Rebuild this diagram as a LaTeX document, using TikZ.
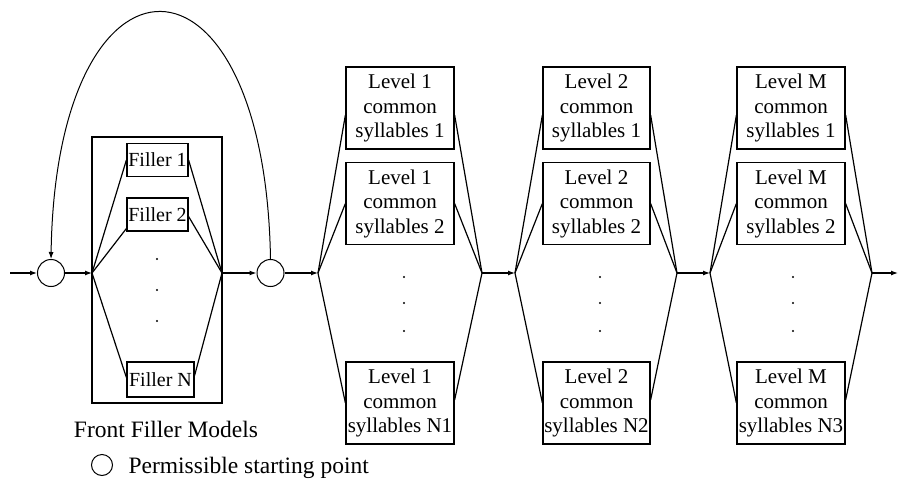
\documentclass[tikz,border=0pt]{standalone}
\usepackage{fontspec}
\setmainfont{Liberation Serif}
\usetikzlibrary{arrows.meta}
\begin{document}
\begin{tikzpicture}[x=1pt,y=-1pt,line width=1.2pt,
  state/.style={circle,draw,line width=1pt,minimum size=27pt,inner sep=0pt},
  filler/.style={draw,minimum height=33pt,inner sep=0pt,font=\fontsize{20}{24}\selectfont},
  syl/.style={draw,minimum width=108pt,minimum height=82pt,inner sep=0pt,align=center,
    font=\fontsize{21}{24.5}\selectfont},
  arr/.style={-{Latex[length=7pt,width=5pt]}},
  vdot/.style={circle,fill,inner sep=0pt,minimum size=2.4pt},
  caption/.style={inner sep=0pt,font=\fontsize{23.5}{27}\selectfont}
]
\useasboundingbox (0,0) rectangle (899,479);

% starting points
\coordinate (in) at (10,273);
\node[state] (c1) at (51,273) {};
\node[state] (c2) at (270.5,273) {};

% front filler block
\node[draw,minimum width=130pt,minimum height=266pt,inner sep=0pt] (ffm) at (157,270) {};
\coordinate (fl) at (92,273);
\coordinate (fr) at (222,273);
\node[filler,minimum width=61pt] (f1) at (157.5,160) {Filler 1};
\node[filler,minimum width=61pt] (f2) at (157.5,214.5) {Filler 2};
\node[filler,minimum width=67pt,minimum height=35pt] (fn) at (160.5,379.5) {Filler N};
\node[vdot] (fd1) at (157,259) {};
\node[vdot] (fd2) at (157,290) {};
\node[vdot] (fd3) at (157,321) {};

\draw (fl) -- (f1.west);
\draw (fl) -- ([yshift=-14pt]f2.west);
\draw (fl) -- ([yshift=2pt]fn.west);
\draw (f1.east) -- (fr);
\draw ([yshift=-2pt]f2.east) -- (fr);
\draw ([yshift=4pt]fn.east) -- (fr);

\node[caption,anchor=base] (ffmlabel) at (166,437) {Front Filler Models};

% level junctions
\coordinate (a1) at (318,273);
\coordinate (b1) at (482,273);
\coordinate (a2) at (515,273);
\coordinate (b2) at (677,273);
\coordinate (a3) at (710,273);
\coordinate (b3) at (872,273);
\coordinate (out) at (898,273);

% level 1
\node[syl] (l1a) at (400,108) {Level 1\\common\\syllables 1};
\node[syl] (l1b) at (400,203.5) {Level 1\\common\\syllables 2};
\node[syl] (l1n) at (400,403) {Level 1\\common\\syllables N1};
% level 2
\node[syl,minimum width=107pt] (l2a) at (596.5,108) {Level 2\\common\\syllables 1};
\node[syl,minimum width=107pt] (l2b) at (596.5,203.5) {Level 2\\common\\syllables 2};
\node[syl,minimum width=107pt] (l2n) at (596.5,403) {Level 2\\common\\syllables N2};
% level M
\node[syl] (l3a) at (791,108) {Level M\\common\\syllables 1};
\node[syl] (l3b) at (791,203.5) {Level M\\common\\syllables 2};
\node[syl] (l3n) at (791,403) {Level M\\common\\syllables N3};

\foreach \c/\x in {1/404,2/600,3/793}{
  \node[vdot] (ld\c a) at (\x,277) {};
  \node[vdot] (ld\c b) at (\x,303) {};
  \node[vdot] (ld\c c) at (\x,331) {};
}

\foreach \lv in {1,2,3}{
  \draw (a\lv) -- ([yshift=-7pt]l\lv a.west);
  \draw (a\lv) -- (l\lv b.west);
  \draw (a\lv) -- (l\lv n.west);
  \draw ([yshift=-7pt]l\lv a.east) -- (b\lv);
  \draw (l\lv b.east) -- (b\lv);
  \draw ([yshift=3pt]l\lv n.east) -- (b\lv);
}

% main chain
\draw[arr] (in) -- (c1);
\draw[arr] (c1) -- (fl);
\draw[arr] (fr) -- (c2);
\draw[arr] (c2) -- (a1);
\draw[arr] (b1) -- (a2);
\draw[arr] (b2) -- (a3);
\draw[arr] (b3) -- (out);

% loop back to the first starting point
\draw[arr,line width=1pt] (c2.north) .. controls (265,-70) and (56,-70) .. (c1.north);

% legend
\node[circle,draw,line width=1pt,minimum size=21pt,inner sep=0pt] (legc) at (102,465) {};
\node[caption,anchor=base west] (legt) at (128,473) {Permissible starting point};
\end{tikzpicture}
\end{document}
